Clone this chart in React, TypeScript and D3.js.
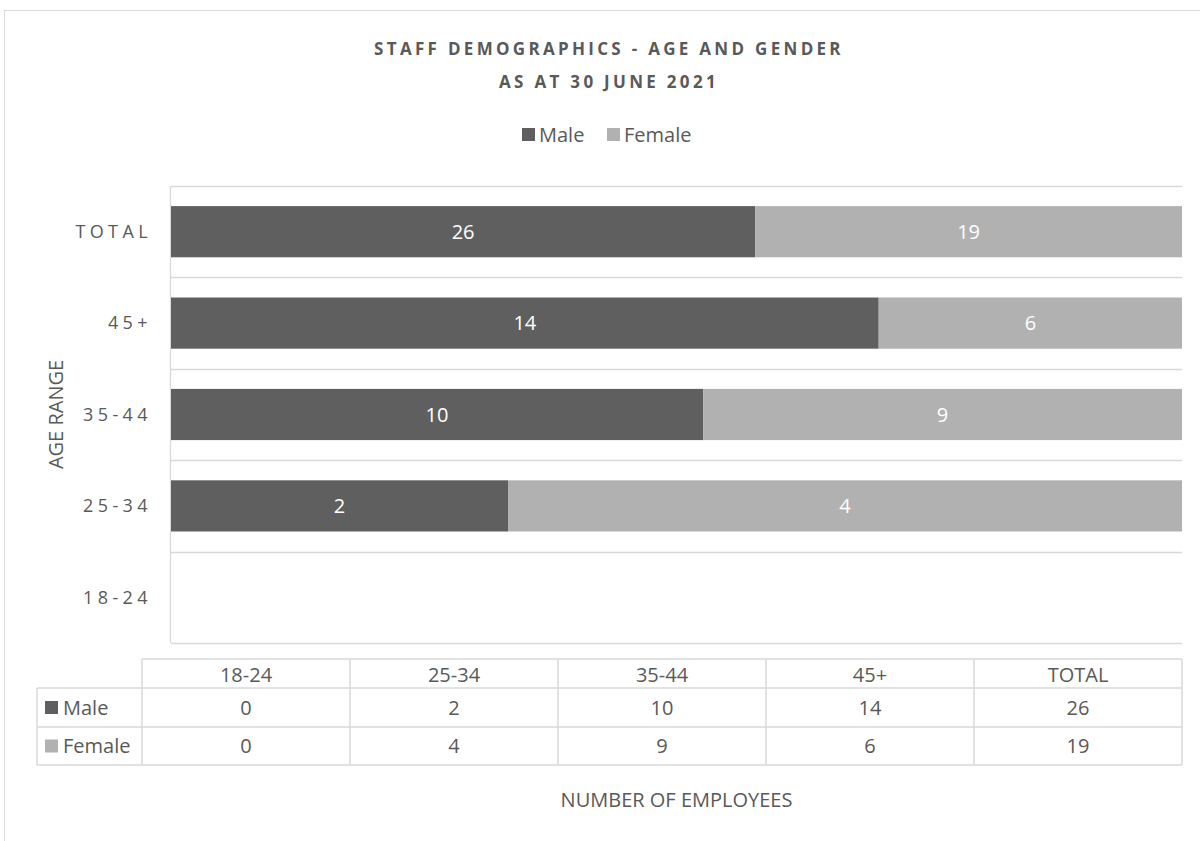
import React, { useEffect, useRef } from 'react';
import * as d3 from 'd3';

const categories = ['18-24', '25-34', '35-44', '45+', 'TOTAL'];
const maleValues = [0, 2, 10, 14, 26];
const femaleValues = [0, 4, 9, 6, 19];
const seriesNames = ['Male', 'Female'];
const seriesColors = ['#5F5F5F', '#B1B1B1'];

const W = 1200;
const H = 841;
const FONT = '"Open Sans", sans-serif';
const TEXT = '#595959';
const GRID = '#D9D9D9';
const FS = '20px';

const App = () => {
  const ref = useRef<SVGSVGElement>(null);

  useEffect(() => {
    const svg = d3.select(ref.current);
    svg.selectAll('*').remove();

    // chart frame
    svg.append('rect')
      .attr('x', 4.5).attr('y', 10.5)
      .attr('width', 1240).attr('height', 900)
      .attr('fill', 'white').attr('stroke', GRID);

    // titles
    const titles = ['STAFF DEMOGRAPHICS - AGE AND GENDER', 'AS AT 30 JUNE 2021'];
    titles.forEach((t, i) => {
      svg.append('text')
        .attr('x', 609).attr('y', 49 + i * 33)
        .attr('dy', '0.35em')
        .attr('text-anchor', 'middle')
        .style('font-family', FONT)
        .style('font-weight', 'bold')
        .style('font-size', '17px')
        .style('letter-spacing', '3.3px')
        .style('fill', TEXT)
        .text(t);
    });

    // legend
    const legend = svg.append('g');
    const legendX = [522, 607];
    seriesNames.forEach((name, i) => {
      legend.append('rect')
        .attr('x', legendX[i]).attr('y', 128)
        .attr('width', 13).attr('height', 13)
        .attr('fill', seriesColors[i]);
      legend.append('text')
        .attr('x', legendX[i] + 17).attr('y', 135)
        .attr('dy', '0.35em')
        .style('font-family', FONT)
        .style('font-size', FS)
        .style('fill', TEXT)
        .text(name);
    });

    // plot area
    const left = 171, right = 1182, top = 186, bottom = 643;
    const y = d3.scaleBand<string>()
      .domain([...categories].reverse())
      .range([top, bottom])
      .paddingInner(0.44)
      .paddingOuter(0.22);
    const x = d3.scaleLinear().domain([0, 1]).range([left, right]);

    const rows = categories.map((c, i) => ({ cat: c, Male: maleValues[i], Female: femaleValues[i] }));
    const stacked = d3.stack<any>()
      .keys(seriesNames)
      .offset(d3.stackOffsetExpand)(rows);

    // gridlines at category boundaries
    const bounds = d3.range(categories.length + 1).map(i => top + i * ((bottom - top) / categories.length));
    svg.append('g')
      .selectAll('line')
      .data(bounds)
      .join('line')
      .attr('x1', left).attr('x2', right)
      .attr('y1', d => Math.round(d) + 0.5).attr('y2', d => Math.round(d) + 0.5)
      .attr('stroke', GRID).attr('stroke-width', 1.3);
    svg.append('line')
      .attr('x1', left - 0.5).attr('x2', left - 0.5)
      .attr('y1', top).attr('y2', bottom)
      .attr('stroke', GRID).attr('stroke-width', 1.3);

    // bars
    stacked.forEach((s, si) => {
      const g = svg.append('g');
      g.selectAll('rect')
        .data(s)
        .join('rect')
        .attr('x', d => x(isNaN(d[0]) ? 0 : d[0]))
        .attr('y', d => y(d.data.cat) as number)
        .attr('width', d => (isNaN(d[1]) ? 0 : x(d[1]) - x(d[0])))
        .attr('height', y.bandwidth())
        .attr('fill', seriesColors[si]);
      g.selectAll('text')
        .data(s.filter(d => d.data[seriesNames[si]] > 0))
        .join('text')
        .attr('x', d => (x(d[0]) + x(d[1])) / 2)
        .attr('y', d => (y(d.data.cat) as number) + y.bandwidth() / 2)
        .attr('dy', '0.35em')
        .attr('text-anchor', 'middle')
        .style('font-family', FONT)
        .style('font-size', FS)
        .style('fill', 'white')
        .text(d => d.data[seriesNames[si]]);
    });

    // category labels
    svg.append('g')
      .selectAll('text')
      .data(categories)
      .join('text')
      .attr('x', 152)
      .attr('y', d => (y(d) as number) + y.bandwidth() / 2)
      .attr('dy', '0.35em')
      .attr('text-anchor', 'end')
      .style('font-family', FONT)
      .style('font-size', '18px')
      .style('letter-spacing', '4.4px')
      .style('fill', TEXT)
      .text(d => d);

    svg.append('text')
      .attr('transform', `translate(56,${(top + bottom) / 2}) rotate(-90)`)
      .attr('dy', '0.35em')
      .attr('text-anchor', 'middle')
      .style('font-family', FONT)
      .style('font-size', FS)
      .style('fill', TEXT)
      .text('AGE RANGE');

    // data table
    const tLeft = 142, tRight = 1182, keyLeft = 37;
    const rowLines = [659, 688, 727, 765];
    const col = d3.scaleBand<string>().domain(categories).range([tLeft, tRight]);
    const table = svg.append('g')
      .attr('stroke', GRID).attr('stroke-width', 1.5);
    table.append('line')
      .attr('x1', tLeft).attr('x2', tRight)
      .attr('y1', rowLines[0]).attr('y2', rowLines[0]);
    rowLines.slice(1).forEach(ly => {
      table.append('line')
        .attr('x1', keyLeft).attr('x2', tRight)
        .attr('y1', ly).attr('y2', ly);
    });
    [...categories.map(c => col(c) as number), tRight].forEach(lx => {
      table.append('line')
        .attr('x1', lx).attr('x2', lx)
        .attr('y1', rowLines[0]).attr('y2', rowLines[3]);
    });
    table.append('line')
      .attr('x1', keyLeft).attr('x2', keyLeft)
      .attr('y1', rowLines[1]).attr('y2', rowLines[3]);

    const cellText = (tx: number, ty: number, t: string | number, anchor = 'middle') =>
      svg.append('text')
        .attr('x', tx).attr('y', ty)
        .attr('dy', '0.35em')
        .attr('text-anchor', anchor)
        .style('font-family', FONT)
        .style('font-size', FS)
        .style('fill', TEXT)
        .text(t);

    categories.forEach(c => {
      cellText((col(c) as number) + col.bandwidth() / 2, (rowLines[0] + rowLines[1]) / 2 + 1, c);
    });
    const tableSeries = [maleValues, femaleValues];
    tableSeries.forEach((vals, si) => {
      const cy = (rowLines[si + 1] + rowLines[si + 2]) / 2;
      svg.append('rect')
        .attr('x', 45).attr('y', cy - 6.5)
        .attr('width', 13).attr('height', 13)
        .attr('fill', seriesColors[si]);
      cellText(63, cy, seriesNames[si], 'start');
      vals.forEach((v, i) => {
        cellText((col(categories[i]) as number) + col.bandwidth() / 2, cy, v);
      });
    });

    svg.append('text')
      .attr('x', (left + right) / 2).attr('y', 800)
      .attr('dy', '0.35em')
      .attr('text-anchor', 'middle')
      .style('font-family', FONT)
      .style('font-size', FS)
      .style('fill', TEXT)
      .text('NUMBER OF EMPLOYEES');
  }, []);

  return (
    <svg
      ref={ref}
      width={W}
      height={H}
      style={{ position: 'absolute', left: 0, top: 0, background: 'white' }}
    />
  );
};

export default App;
